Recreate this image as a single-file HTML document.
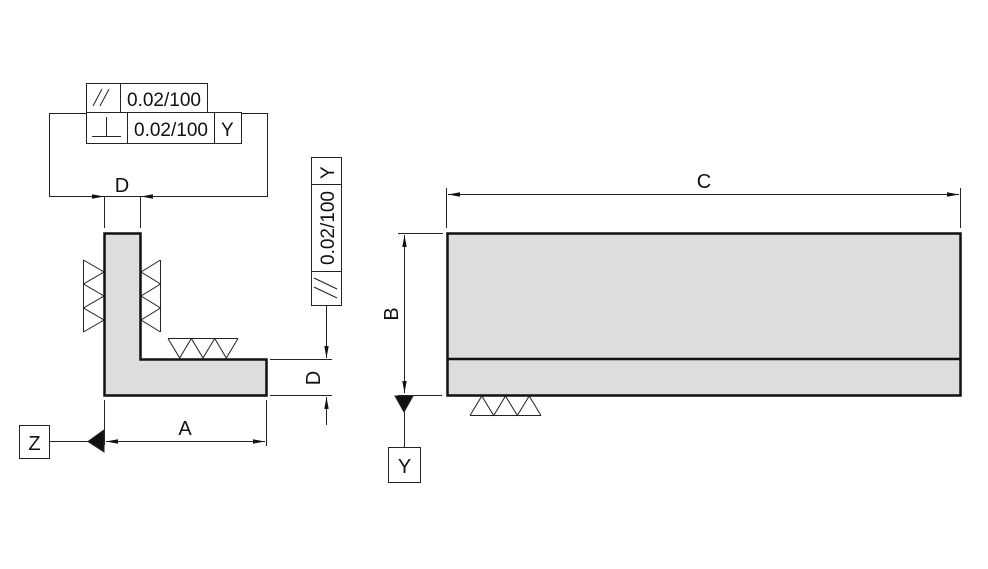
<!DOCTYPE html>
<html><head><meta charset="utf-8"><style>
html,body{margin:0;padding:0;background:#fff}
svg{display:block}
text{font-family:"Liberation Sans",Arial,sans-serif;fill:#111}
</style></head><body>
<svg width="988" height="569" viewBox="0 0 988 569" xmlns="http://www.w3.org/2000/svg">
<defs>
<marker id="ar" viewBox="0 0 12 6" refX="12" refY="3" markerWidth="12" markerHeight="6" orient="auto-start-reverse" markerUnits="userSpaceOnUse"><path d="M0,0.8 L12,3 L0,5.2 z" fill="#111"/></marker>
</defs>
<g stroke="#222" stroke-width="1" fill="none">
<rect x="86.5" y="83.5" width="121" height="29" fill="#fff"/>
<line x1="120.5" y1="83" x2="120.5" y2="112"/>
<rect x="86.5" y="112.5" width="155" height="31" fill="#fff"/>
<line x1="127.5" y1="112" x2="127.5" y2="143"/>
<line x1="214.5" y1="112" x2="214.5" y2="143"/>
<path d="M86,113.5 H49.5 V196.5 H267.5 V113.5 H241"/>
<line x1="93" y1="106" x2="102" y2="89"/><line x1="100" y1="106" x2="109" y2="89"/>
<line x1="92" y1="136.5" x2="121" y2="136.5"/><line x1="106.5" y1="117" x2="106.5" y2="136"/>
<line x1="104.5" y1="197" x2="104.5" y2="228"/>
<line x1="140.5" y1="197" x2="140.5" y2="228"/>
<line x1="80" y1="196.5" x2="104" y2="196.5" marker-end="url(#ar)"/>
<line x1="170" y1="196.5" x2="141" y2="196.5" marker-end="url(#ar)"/>
<path d="M104.5,233.5 H140.5 V359.5 H266.5 V395.5 H104.5 Z" fill="#dcdddf" stroke="#111" stroke-width="2.5"/>
<path d="M83.5,260 V332 M83.5,260 L104,272 L83.5,284 L104,296 L83.5,308 L104,320 L83.5,332" />
<path d="M160.5,260 V332 M160.5,260 L141,272 L160.5,284 L141,296 L160.5,308 L141,320 L160.5,332" />
<path d="M168,338.5 H238 M168,338.5 L179.7,358 L191.3,338.5 L203,358 L214.7,338.5 L226.3,358 L238,338.5"/>
<rect x="311.5" y="157.5" width="30" height="148" fill="#fff"/>
<line x1="311" y1="184.5" x2="341" y2="184.5"/>
<line x1="311" y1="271.5" x2="341" y2="271.5"/>
<line x1="314" y1="278" x2="337" y2="289"/><line x1="314" y1="287" x2="337" y2="298"/>
<line x1="326.5" y1="306" x2="326.5" y2="358" marker-end="url(#ar)"/>
<line x1="270" y1="359.5" x2="332" y2="359.5"/>
<line x1="270" y1="395.5" x2="332" y2="395.5"/>
<line x1="326.5" y1="425" x2="326.5" y2="397" marker-end="url(#ar)"/>
<line x1="104.5" y1="400" x2="104.5" y2="445"/>
<line x1="266.5" y1="400" x2="266.5" y2="446"/>
<line x1="106" y1="441.5" x2="265" y2="441.5" marker-start="url(#ar)" marker-end="url(#ar)"/>
<rect x="19.5" y="425.5" width="30" height="33" fill="#fff"/>
<line x1="50" y1="441.5" x2="90" y2="441.5"/>
<path d="M104,430 L104,452 L88,441.5 Z" fill="#111"/>
<rect x="447.5" y="233.5" width="513" height="162" fill="#dcdddf" stroke="#111" stroke-width="2.5"/>
<line x1="447" y1="359" x2="961" y2="359" stroke="#111" stroke-width="2.5"/>
<path d="M470,415.5 H541 M470,415.5 L481.8,396 L493.7,415.5 L505.5,396 L517.3,415.5 L529.2,396 L541,415.5"/>
<line x1="446.5" y1="188" x2="446.5" y2="228"/>
<line x1="960.5" y1="188" x2="960.5" y2="228"/>
<line x1="448" y1="194.5" x2="959" y2="194.5" marker-start="url(#ar)" marker-end="url(#ar)"/>
<line x1="398" y1="233.5" x2="443" y2="233.5"/>
<line x1="398" y1="395.5" x2="442" y2="395.5"/>
<line x1="404.5" y1="235" x2="404.5" y2="393" marker-start="url(#ar)" marker-end="url(#ar)"/>
<path d="M395,396 L413,396 L404,412 Z" fill="#111"/>
<line x1="404.5" y1="412" x2="404.5" y2="447"/>
<rect x="388.5" y="447.5" width="32" height="35" fill="#fff"/>
</g>
<g font-size="19">
<text x="127" y="106">0.02/100</text>
<text x="134" y="136">0.02/100</text>
<text x="221" y="136">Y</text>
<text x="122" y="192" text-anchor="middle" font-size="20">D</text>
<text x="34.5" y="450" text-anchor="middle" font-size="20">Z</text>
<text x="185" y="435" text-anchor="middle" font-size="20">A</text>
<text x="404.5" y="473" text-anchor="middle" font-size="20">Y</text>
<text x="704" y="188" text-anchor="middle" font-size="20">C</text>
<text transform="translate(334,265) rotate(-90)">0.02/100</text>
<text transform="translate(334,179) rotate(-90)">Y</text>
<text transform="translate(320,378) rotate(-90)" text-anchor="middle" font-size="20">D</text>
<text transform="translate(398,314) rotate(-90)" text-anchor="middle" font-size="20">B</text>
</g>
</svg>
</body></html>
